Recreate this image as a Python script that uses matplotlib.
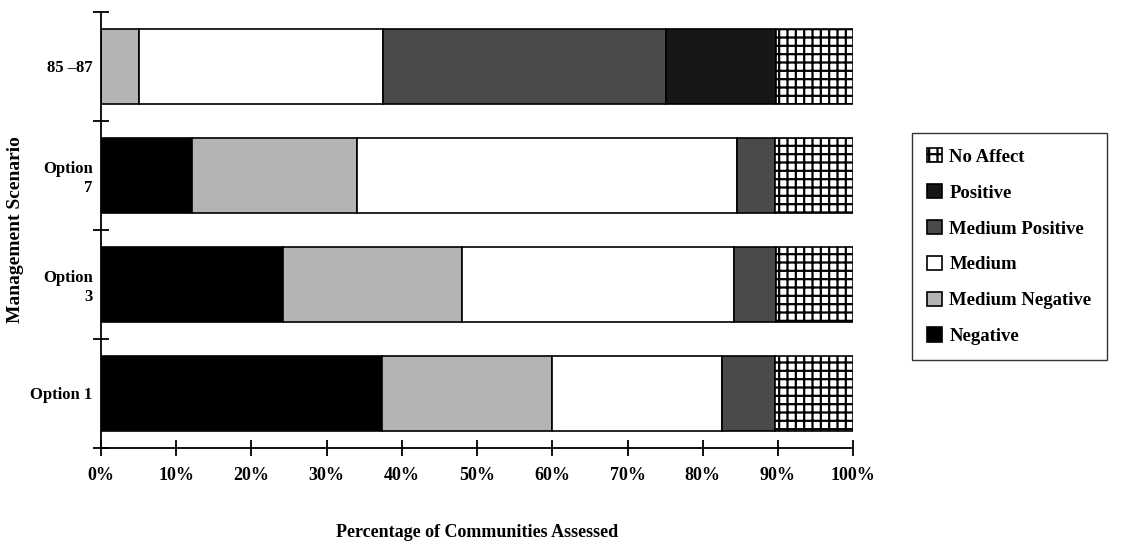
import numpy as np
import matplotlib
matplotlib.use("Agg")
import matplotlib.pyplot as plt

# Scenarios, bottom to top
scenarios = ["Option 1", "Option\n3", "Option\n7", "85 –87"]

# Percent of communities in each effect class
negative = [37.4, 24.2, 12.1, 0.0]
medium_negative = [22.6, 23.8, 21.9, 5.0]
medium = [22.6, 36.2, 50.6, 32.5]
medium_positive = [7.0, 5.6, 5.0, 37.6]
positive = [0.0, 0.0, 0.0, 14.6]
no_affect = [10.4, 10.2, 10.4, 10.3]

series = [
    ("Negative", negative, "#000000", None),
    ("Medium Negative", medium_negative, "#b4b4b4", None),
    ("Medium", medium, "white", None),
    ("Medium Positive", medium_positive, "#4a4a4a", None),
    ("Positive", positive, "#161616", None),
    ("No Affect", no_affect, "white", "++"),
]

x_ticks = np.arange(0, 101, 10)

plt.rcParams["font.family"] = ["Liberation Serif", "DejaVu Serif"]
plt.rcParams["font.weight"] = "bold"
plt.rcParams["hatch.linewidth"] = 1.6

fig = plt.figure(figsize=(11.21, 5.5), dpi=100)
ax = fig.add_axes([0.0901, 0.1855, 0.671, 0.7927])

ypos = np.arange(len(scenarios))
left = np.zeros(len(scenarios))
handles = []
for name, vals, col, hatch in series:
    vals = np.array(vals)
    b = ax.barh(ypos, vals, left=left, height=0.68, color=col,
                edgecolor="black", linewidth=1.2, hatch=hatch, label=name)
    handles.append(b)
    left += vals

ax.set_xlim(0, 100)
ax.set_ylim(-0.5, len(scenarios) - 0.5)

for s in ["top", "right"]:
    ax.spines[s].set_visible(False)
ax.spines["left"].set_linewidth(1.3)
ax.spines["bottom"].set_linewidth(1.3)

ax.set_xticks(x_ticks)
ax.set_xticklabels([f"{v}%" for v in x_ticks], fontsize=13, fontweight="bold")
ax.tick_params(axis="x", direction="inout", length=12, width=1.3, pad=8)

ax.set_yticks(np.arange(-0.5, len(scenarios), 1.0))
ax.set_yticklabels([])
ax.tick_params(axis="y", which="major", direction="inout", length=12, width=1.3)
ax.set_yticks(ypos, minor=True)
ax.set_yticklabels(scenarios, minor=True, fontsize=12, fontweight="bold",
                   ha="right")
ax.tick_params(axis="y", which="minor", length=0, pad=6)

ax.set_xlabel("Percentage of Communities Assessed", fontsize=13,
              fontweight="bold")
ax.xaxis.set_label_coords(0.50, -0.175)
ax.set_ylabel("Management Scenario", fontsize=14, fontweight="bold")
ax.yaxis.set_label_coords(-0.103, 0.5)

leg = fig.legend(handles[::-1], [h.get_label() for h in handles[::-1]],
                 loc="upper left", bbox_to_anchor=(0.8135, 0.758),
                 borderaxespad=0,
                 fontsize=13.5, frameon=True, fancybox=False,
                 edgecolor="black", handlelength=0.8, handleheight=0.8,
                 handletextpad=0.4, labelspacing=0.97, borderpad=0.8)
leg.get_frame().set_linewidth(1.0)
for t in leg.get_texts():
    t.set_fontweight("bold")

fig.savefig("out.png", dpi=100)
